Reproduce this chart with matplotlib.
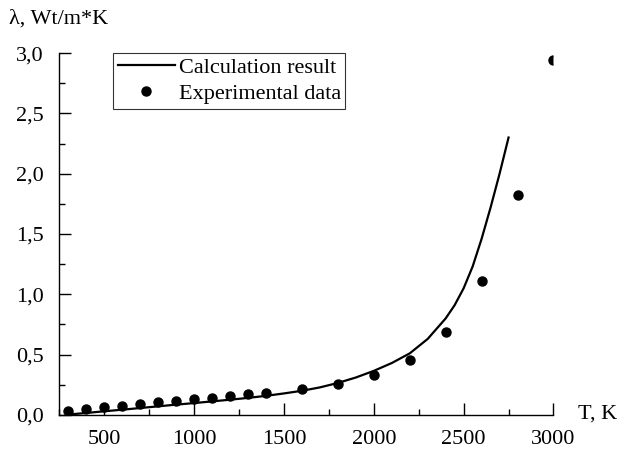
import matplotlib.pyplot as plt
from matplotlib.ticker import MultipleLocator

plt.rcParams['font.family'] = ['Liberation Serif', 'DejaVu Serif']

# experimental points
t_exp = [300, 400, 500, 600, 700, 800, 900, 1000, 1100, 1200, 1300, 1400,
         1600, 1800, 2000, 2200, 2400, 2600, 2800, 3000]
lam_exp = [0.036, 0.05, 0.062, 0.076, 0.091, 0.105, 0.117, 0.128, 0.141, 0.155,
           0.17, 0.184, 0.213, 0.256, 0.33, 0.456, 0.69, 1.11, 1.82, 2.94]

# calculated curve
t_calc = [300, 400, 500, 600, 700, 800, 900, 1000, 1100, 1200, 1300, 1400, 1500,
          1600, 1700, 1800, 1900, 2000, 2100, 2200, 2300, 2400, 2450, 2500, 2550,
          2600, 2650, 2700, 2750]
lam_calc = [0.003, 0.016, 0.030, 0.043, 0.057, 0.071, 0.085, 0.098, 0.112, 0.126,
            0.141, 0.158, 0.178, 0.200, 0.228, 0.265, 0.310, 0.365, 0.430, 0.510,
            0.630, 0.800, 0.910, 1.050, 1.230, 1.460, 1.720, 2.000, 2.300]

x_ticks = [500, 1000, 1500, 2000, 2500, 3000]
y_ticks = [0.0, 0.5, 1.0, 1.5, 2.0, 2.5, 3.0]
y_labels = ["0,0", "0,5", "1,0", "1,5", "2,0", "2,5", "3,0"]

fig = plt.figure(figsize=(6.24, 4.5), dpi=100)
ax = fig.add_axes([0.095, 0.078, 0.792, 0.804])

ax.plot(t_calc, lam_calc, color='black', lw=1.6, label='Calculation result')
pts, = ax.plot(t_exp, lam_exp, 'o', color='black', ms=6.5, label='Experimental data')
# real path clip so the last dot is cut at the axis edge
pts.set_clip_path(ax.patch.get_path(), ax.patch.get_transform())

ax.set_xlim(250, 3000)
ax.set_ylim(0, 3.0)
ax.set_xticks(x_ticks)
ax.set_yticks(y_ticks)
ax.set_yticklabels(y_labels)
ax.xaxis.set_minor_locator(MultipleLocator(250))
ax.yaxis.set_minor_locator(MultipleLocator(0.25))

ax.tick_params(which='both', direction='in', labelsize=16, width=1)
ax.tick_params(which='major', length=8.5)
ax.tick_params(which='minor', length=4.3)
ax.tick_params(axis='x', pad=11)
ax.tick_params(axis='y', pad=11)

for s in ['top', 'right']:
    ax.spines[s].set_visible(False)
for s in ['left', 'bottom']:
    ax.spines[s].set_linewidth(1)

fig.text(0.014, 0.958, 'λ, Wt/m*K', fontsize=16, va='center', ha='left')
fig.text(0.958, 0.08, 'T, K', fontsize=16, va='center', ha='center')

leg = ax.legend(loc='upper left', bbox_to_anchor=(0.109, 1.0), borderaxespad=0,
                fontsize=16, frameon=True, fancybox=False, edgecolor='black',
                handlelength=2.6, handletextpad=0.15, borderpad=0.2,
                labelspacing=0.25)
leg.get_frame().set_linewidth(0.8)

plt.savefig('out.png', dpi=100)
